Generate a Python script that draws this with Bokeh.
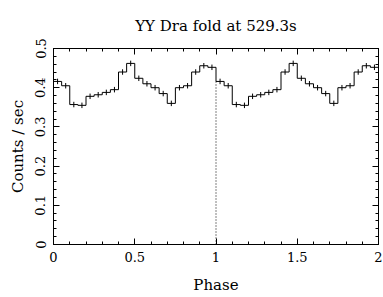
import numpy as np
from bokeh.plotting import figure
from bokeh.models import LinearAxis, SingleIntervalTicker, Range1d, CustomJSTickFormatter
from bokeh.embed import file_html
from bokeh.resources import INLINE

# Folded light curve (two cycles), 0.05-phase bins
phase_edges = [round(0.05 * i, 2) for i in range(41)]
rate = [0.416, 0.405, 0.357, 0.355, 0.378, 0.382, 0.388, 0.395, 0.440, 0.462,
        0.424, 0.410, 0.400, 0.385, 0.360, 0.400, 0.405, 0.440, 0.456, 0.452,
        0.416, 0.405, 0.357, 0.355, 0.378, 0.382, 0.388, 0.395, 0.440, 0.462,
        0.424, 0.410, 0.400, 0.385, 0.360, 0.400, 0.405, 0.440, 0.456, 0.452]
err = [0.007] * 40

title = "YY Dra fold at 529.3s"
xlabel = "Phase"
ylabel = "Counts / sec"

FONT = "DejaVu Serif"

p = figure(width=383, height=297, output_backend="svg", toolbar_location=None,
           x_range=Range1d(0, 2), y_range=Range1d(0, 0.5),
           min_border_left=53, min_border_right=5, min_border_top=48, min_border_bottom=53)
p.title.text = title
p.title.align = "center"
p.title.text_font = FONT
p.title.text_font_size = "15px"
p.title.text_font_style = "normal"
p.title.text_color = "black"
p.title.standoff = 28

p.grid.visible = False
p.outline_line_color = "black"
p.outline_line_width = 1
p.background_fill_color = "white"
p.border_fill_color = "white"

xt = SingleIntervalTicker(interval=0.5, num_minor_ticks=5)
yt = SingleIntervalTicker(interval=0.1, num_minor_ticks=5)

def style(ax):
    ax.major_tick_in = 6
    ax.major_tick_out = 0
    ax.minor_tick_in = 3
    ax.minor_tick_out = 0
    ax.axis_line_color = "black"
    ax.major_tick_line_color = "black"
    ax.minor_tick_line_color = "black"
    ax.major_label_text_font = FONT
    ax.major_label_text_font_size = "13px"
    ax.major_label_text_color = "black"
    ax.axis_label_text_font = FONT
    ax.axis_label_text_font_size = "15px"
    ax.axis_label_text_font_style = "normal"
    ax.axis_label_text_color = "black"

p.xaxis.ticker = xt
p.yaxis.ticker = yt
style(p.xaxis[0])
style(p.yaxis[0])
p.xaxis.axis_label = xlabel
p.yaxis.axis_label = ylabel
p.xaxis.major_label_standoff = 7
p.xaxis.axis_label_standoff = 11
p.yaxis.major_label_orientation = "vertical"
p.yaxis.major_label_standoff = 8
p.yaxis.axis_label_standoff = 6

blank = "return ''"
top = LinearAxis(ticker=SingleIntervalTicker(interval=0.5, num_minor_ticks=5),
                 formatter=CustomJSTickFormatter(code=blank))
style(top)
top.major_label_standoff = 0
right = LinearAxis(ticker=SingleIntervalTicker(interval=0.1, num_minor_ticks=5),
                   formatter=CustomJSTickFormatter(code=blank))
style(right)
right.major_label_standoff = 0
p.add_layout(top, "above")
p.add_layout(right, "right")

# histogram steps
xs = phase_edges
ys = rate + [rate[-1]]
p.step(x=xs, y=ys, mode="after", line_color="black", line_width=1)

# error bars at bin centres
centers = [(phase_edges[i] + phase_edges[i + 1]) / 2 for i in range(40)]
lo = [r - e for r, e in zip(rate, err)]
hi = [r + e for r, e in zip(rate, err)]
p.segment(x0=centers, y0=lo, x1=centers, y1=hi, line_color="black", line_width=1)

# dotted line at phase 1
p.segment(x0=[1.0], y0=[0.0], x1=[1.0], y1=[rate[20]], line_color="black",
          line_width=1, line_dash="1 2")

open("out.html", "w").write(file_html(p, INLINE))
